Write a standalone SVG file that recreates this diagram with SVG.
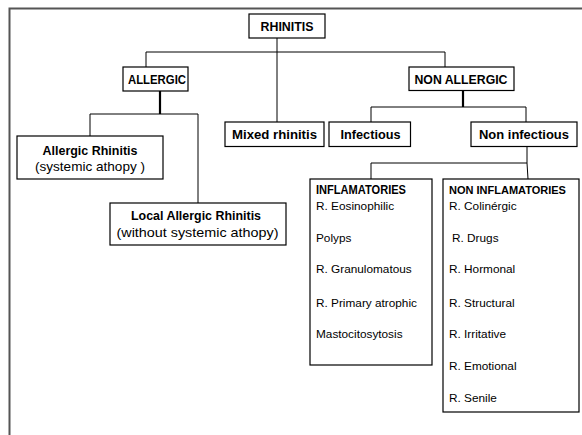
<svg xmlns="http://www.w3.org/2000/svg" width="582" height="435" viewBox="0 0 582 435">
<style>
text{font-family:"Liberation Sans",Arial,sans-serif;fill:#000}
.b{font-weight:bold;font-size:13px}
.s{font-size:13px}
.l{font-size:11.8px}
.box{fill:#fff;stroke:#000;stroke-width:1.2}
.c{fill:none;stroke:#000;stroke-width:1}
.t{fill:none;stroke:#000;stroke-width:2.2}
.f{fill:none;stroke:#555;stroke-width:2}
</style>
<rect width="582" height="435" fill="#fff"/>
<g id="frame"><path class="f" d="M582,8.5 H9.5 V435"/></g>
<g id="connectors">
<path class="c" d="M277,38 V122"/>
<path class="c" d="M146,67 V52 H445 V67"/>
<path class="t" d="M160,91 V114"/>
<path class="c" d="M90,136 V114 H198 V203"/>
<path class="t" d="M463,90 V107"/>
<path class="c" d="M371,122 V107 H526 V122"/>
<path class="c" d="M527,146 V163 L528,179"/>
<path class="c" d="M371,179 V163 H527"/>
</g>
<g id="rhinitis"><rect class="box" x="249" y="14" width="76" height="24"/><text class="b" x="287" y="31" text-anchor="middle" textLength="53" lengthAdjust="spacingAndGlyphs">RHINITIS</text></g>
<g id="allergic"><rect class="box" x="123" y="67" width="65" height="24"/><text class="b" x="157" y="84" text-anchor="middle" textLength="58" lengthAdjust="spacingAndGlyphs">ALLERGIC</text></g>
<g id="nonallergic"><rect class="box" x="409" y="67" width="105" height="23.5"/><text class="b" x="461" y="84" text-anchor="middle" textLength="93" lengthAdjust="spacingAndGlyphs">NON ALLERGIC</text></g>
<g id="mixed"><rect class="box" x="225" y="122" width="99" height="24.5"/><text class="b" x="274.5" y="139" text-anchor="middle" textLength="85" lengthAdjust="spacingAndGlyphs">Mixed rhinitis</text></g>
<g id="infectious"><rect class="box" x="329" y="122" width="81.5" height="24.5"/><text class="b" x="370.5" y="139" text-anchor="middle" textLength="60" lengthAdjust="spacingAndGlyphs">Infectious</text></g>
<g id="noninfectious"><rect class="box" x="471" y="122" width="106" height="24.5"/><text class="b" x="524" y="139" text-anchor="middle" textLength="90" lengthAdjust="spacingAndGlyphs">Non infectious</text></g>
<g id="allergicrhinitis"><rect class="box" x="17" y="136" width="146" height="43"/><text class="b" x="90" y="154.5" text-anchor="middle" textLength="95" lengthAdjust="spacingAndGlyphs">Allergic Rhinitis</text><text class="s" x="90" y="170.5" text-anchor="middle" textLength="110" lengthAdjust="spacingAndGlyphs">(systemic athopy )</text></g>
<g id="localallergic"><rect class="box" x="110" y="203" width="176" height="42"/><text class="b" x="196" y="220" text-anchor="middle" textLength="130" lengthAdjust="spacingAndGlyphs">Local Allergic Rhinitis</text><text class="s" x="197.5" y="236.5" text-anchor="middle" textLength="162" lengthAdjust="spacingAndGlyphs">(without  systemic athopy)</text></g>
<g id="inflamatories"><rect class="box" x="310" y="179" width="122" height="186"/>
<text class="b" x="316" y="194" textLength="90" lengthAdjust="spacingAndGlyphs">INFLAMATORIES</text>
<text class="l" x="316" y="210">R. Eosinophilic</text>
<text class="l" x="316" y="242">Polyps</text>
<text class="l" x="316" y="273">R. Granulomatous</text>
<text class="l" x="316" y="307">R. Primary atrophic</text>
<text class="l" x="316" y="338">Mastocitosytosis</text>
</g>
<g id="noninflamatories"><rect class="box" x="443" y="179" width="136" height="233"/>
<text class="b" x="449" y="194" font-size="11px" style="font-size:11px">NON INFLAMATORIES</text>
<text class="l" x="449" y="210">R. Colinérgic</text>
<text class="l" x="452" y="242">R. Drugs</text>
<text class="l" x="449" y="273">R. Hormonal</text>
<text class="l" x="449" y="307">R. Structural</text>
<text class="l" x="449" y="338">R. Irritative</text>
<text class="l" x="449" y="370">R. Emotional</text>
<text class="l" x="449" y="402">R. Senile</text>
</g>
</svg>
